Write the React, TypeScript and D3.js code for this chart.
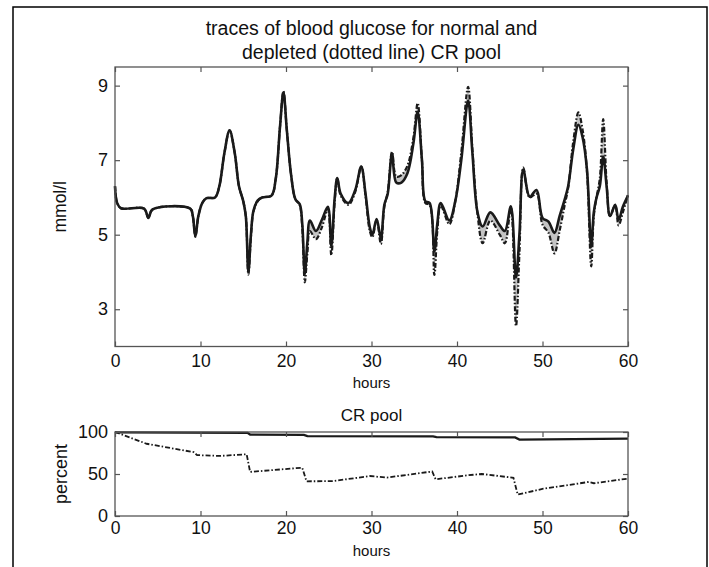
import React, { useEffect, useRef } from 'react';
import * as d3 from 'd3';

// glucose traces (mmol/l) sampled at shared hours
const hours = [0, 0.25, 0.7, 3.4, 3.9, 4.4, 8.8, 9.1, 9.4, 9.75, 10.2, 10.7, 11.7, 12.2, 12.8, 13.4, 14.0, 14.5, 15.0, 15.3,
    15.6, 15.9, 16.2, 16.7, 17.2, 18.3, 18.8, 19.3, 19.7, 20.1, 20.6, 21.1, 21.6, 21.9, 22.2, 22.5, 22.8, 23.5, 24.2, 24.9,
    25.3, 25.7, 26.0, 26.4, 27.3, 28.1, 28.8, 29.3, 29.8, 30.1, 30.6, 31.1, 31.5, 31.9, 32.4, 32.9, 33.5, 34.2, 34.9, 35.4,
    35.9, 36.3, 36.8, 37.35, 37.7, 38.1, 39.1, 39.8, 40.5, 41.3, 41.8, 42.4, 43.0, 43.9, 45.0, 45.6, 46.3, 46.9, 47.3, 47.75,
    48.5, 49.3, 50.0, 50.7, 51.4, 52.0, 52.6, 53.0, 53.6, 54.2, 54.7, 55.2, 55.7, 56.0, 56.3, 56.7, 57.1, 57.5, 57.9, 58.5,
    58.9, 59.4, 60.0];
const normal = [6.3, 5.85, 5.71, 5.7, 5.45, 5.68, 5.7, 5.5, 4.95, 5.5, 5.85, 5.98, 6.0, 6.3, 7.2, 7.8, 7.2, 6.3, 5.9, 5.5,
    4.0, 5.0, 5.65, 5.92, 6.0, 6.05, 6.5, 7.9, 8.82, 7.8, 6.6, 5.95, 5.82, 5.3, 3.95, 4.8, 5.38, 5.1, 5.4, 5.75,
    4.7, 6.0, 6.52, 6.1, 5.85, 6.2, 6.83, 6.1, 5.2, 5.0, 5.42, 4.9, 5.8, 6.1, 7.18, 6.4, 6.4, 6.65, 7.45, 8.3,
    7.0, 5.9, 5.85, 4.55, 5.3, 5.85, 5.38, 5.9, 7.0, 8.6, 7.2, 5.6, 5.22, 5.6, 5.25, 5.1, 5.76, 3.85, 5.0, 6.75,
    6.02, 6.2, 5.45, 5.35, 5.05, 5.5, 5.95, 6.3, 7.3, 7.95, 7.6, 6.75, 4.68, 5.6, 5.98, 6.3, 7.1, 6.3, 5.5, 5.8,
    5.4, 5.75, 6.05];
const depleted = [6.3, 5.85, 5.71, 5.7, 5.45, 5.68, 5.7, 5.5, 4.95, 5.5, 5.85, 5.98, 6.0, 6.3, 7.2, 7.8, 7.2, 6.3, 5.9, 5.5,
    3.93, 4.95, 5.62, 5.9, 6.0, 6.05, 6.5, 7.9, 8.85, 7.8, 6.6, 5.95, 5.8, 5.2, 3.72, 4.5, 5.1, 4.88, 5.2, 5.68,
    4.45, 5.9, 6.52, 6.05, 5.8, 6.15, 6.83, 6.05, 5.1, 4.93, 5.4, 4.75, 5.75, 6.15, 7.22, 6.56, 6.6, 6.85, 7.6, 8.53,
    7.0, 5.85, 5.8, 3.92, 5.1, 5.78, 5.28, 5.9, 7.2, 8.97, 7.3, 5.55, 4.77, 5.38, 5.0, 4.77, 5.72, 2.55, 4.5, 6.8,
    6.0, 6.1, 5.27, 5.05, 4.5, 5.1, 5.8, 6.25, 7.5, 8.28, 7.8, 6.7, 4.15, 5.5, 5.98, 6.5, 8.1, 6.4, 5.49, 5.8,
    5.25, 5.6, 6.07];

// CR pool (percent)
const poolNormalHours = [0, 15.5, 15.8, 22.1, 22.5, 37.2, 37.6, 46.8, 47.3, 60];
const poolNormal = [99.5, 99, 97, 96.5, 95, 94.8, 94, 93.5, 91, 92];
const poolDepletedHours = [0, 3.7, 9.2, 9.6, 12.3, 15.4, 15.8, 21.9, 22.4, 25.5, 29.8, 31.8, 37.1, 37.5, 41.3, 42.9,
    46.6, 47.1, 50.1, 55.4, 56.0, 60];
const poolDepleted = [100, 86, 76, 72.5, 71.5, 73.5, 52.5, 57.5, 41.3, 41.5, 47.6, 45.7, 53, 43.7, 48.5, 50,
    45.5, 25.5, 32.5, 40.5, 39, 44.5];

const hourTicks = [0, 10, 20, 30, 40, 50, 60];
const glucoseTicks = [3, 5, 7, 9];
const poolTicks = [0, 50, 100];

const FONT = "'Liberation Sans', Arial, sans-serif";

export default function App() {
    const ref = useRef<SVGSVGElement>(null);

    useEffect(() => {
        const svg = d3.select(ref.current);
        svg.selectAll('*').remove();

        const left = 115, right = 628;

        // outer frame
        svg.append('rect')
            .attr('x', 13).attr('y', 7)
            .attr('width', 694).attr('height', 600)
            .attr('fill', 'none').attr('stroke', '#000').attr('stroke-width', 1.5);

        const drawFrame = (g, x, y, top, bottom, yTicks, pad) => {
            g.append('g')
                .attr('transform', `translate(0, ${bottom})`)
                .call(d3.axisBottom(x).tickValues(hourTicks).tickSizeInner(-5).tickSizeOuter(0).tickPadding(pad))
                .call(a => a.select('.domain').remove())
                .selectAll('.tick text').style('font-size', '17.5px').style('font-family', FONT).attr('fill', '#111');
            g.append('g')
                .attr('transform', `translate(0, ${top})`)
                .call(d3.axisTop(x).tickValues(hourTicks).tickSizeInner(-5).tickSizeOuter(0).tickFormat(() => ''))
                .call(a => a.select('.domain').remove());
            g.append('g')
                .attr('transform', `translate(${left}, 0)`)
                .call(d3.axisLeft(y).tickValues(yTicks).tickSizeInner(-5).tickSizeOuter(0).tickPadding(7))
                .call(a => a.select('.domain').remove())
                .selectAll('.tick text').style('font-size', '18px').style('font-family', FONT).attr('fill', '#111');
            g.append('g')
                .attr('transform', `translate(${right}, 0)`)
                .call(d3.axisRight(y).tickValues(yTicks).tickSizeInner(-5).tickSizeOuter(0).tickFormat(() => ''))
                .call(a => a.select('.domain').remove());
            g.selectAll('.tick line').attr('stroke', '#555').attr('stroke-width', 1.2);
            g.append('rect')
                .attr('x', left).attr('y', top)
                .attr('width', right - left).attr('height', bottom - top)
                .attr('fill', 'none').attr('stroke', '#555').attr('stroke-width', 1.3);
        };

        // ---- glucose plot ----
        const top1 = 67, bottom1 = 346.5;
        const x1 = d3.scaleLinear().domain([0, 60]).range([left, right]);
        const y1 = d3.scaleLinear().domain([2, 9.5]).range([bottom1, top1]);
        const g1 = svg.append('g');

        const idx = d3.range(hours.length);
        const curve = d3.curveCatmullRom.alpha(0.5);

        g1.append('path')
            .datum(idx)
            .attr('d', d3.area<number>().x(i => x1(hours[i])).y0(i => y1(normal[i])).y1(i => y1(depleted[i])).curve(curve))
            .attr('fill', '#c4c4c4');
        g1.append('path')
            .datum(idx)
            .attr('d', d3.line<number>().x(i => x1(hours[i])).y(i => y1(depleted[i])).curve(curve))
            .attr('fill', 'none').attr('stroke', '#1a1a1a').attr('stroke-width', 2.2)
            .attr('stroke-dasharray', '5,2,1.5,2');
        g1.append('path')
            .datum(idx)
            .attr('d', d3.line<number>().x(i => x1(hours[i])).y(i => y1(normal[i])).curve(curve))
            .attr('fill', 'none').attr('stroke', '#1a1a1a').attr('stroke-width', 2.6)
            .attr('stroke-linejoin', 'round');

        drawFrame(g1, x1, y1, top1, bottom1, glucoseTicks, 8);

        svg.append('text')
            .attr('x', (left + right) / 2).attr('y', 35)
            .attr('text-anchor', 'middle')
            .style('font-family', FONT).style('font-size', '19.5px').attr('fill', '#111')
            .text('traces of blood glucose for normal and');
        svg.append('text')
            .attr('x', (left + right) / 2).attr('y', 59)
            .attr('text-anchor', 'middle')
            .style('font-family', FONT).style('font-size', '19.5px').attr('fill', '#111')
            .text('depleted (dotted line) CR pool');
        svg.append('text')
            .attr('x', (left + right) / 2).attr('y', 388)
            .attr('text-anchor', 'middle')
            .style('font-family', FONT).style('font-size', '15px').attr('fill', '#111')
            .text('hours');
        svg.append('text')
            .attr('transform', `translate(66, ${(top1 + bottom1) / 2}) rotate(-90)`)
            .attr('text-anchor', 'middle')
            .style('font-family', FONT).style('font-size', '17.5px').attr('fill', '#111')
            .text('mmol/l');

        // ---- CR pool plot ----
        const top2 = 432, bottom2 = 516;
        const x2 = d3.scaleLinear().domain([0, 60]).range([left, right]);
        const y2 = d3.scaleLinear().domain([0, 100]).range([bottom2, top2]);
        const g2 = svg.append('g');

        g2.append('path')
            .datum(d3.range(poolDepletedHours.length))
            .attr('d', d3.line<number>().x(i => x2(poolDepletedHours[i])).y(i => y2(poolDepleted[i])))
            .attr('fill', 'none').attr('stroke', '#1a1a1a').attr('stroke-width', 1.8)
            .attr('stroke-dasharray', '5,2,1.5,2');
        g2.append('path')
            .datum(d3.range(poolNormalHours.length))
            .attr('d', d3.line<number>().x(i => x2(poolNormalHours[i])).y(i => y2(poolNormal[i])))
            .attr('fill', 'none').attr('stroke', '#1a1a1a').attr('stroke-width', 2.3);

        drawFrame(g2, x2, y2, top2, bottom2, poolTicks, 6);

        svg.append('text')
            .attr('x', (left + right) / 2).attr('y', 421)
            .attr('text-anchor', 'middle')
            .style('font-family', FONT).style('font-size', '17px').attr('fill', '#111')
            .text('CR pool');
        svg.append('text')
            .attr('x', (left + right) / 2).attr('y', 556)
            .attr('text-anchor', 'middle')
            .style('font-family', FONT).style('font-size', '15px').attr('fill', '#111')
            .text('hours');
        svg.append('text')
            .attr('transform', `translate(67, ${(top2 + bottom2) / 2}) rotate(-90)`)
            .attr('text-anchor', 'middle')
            .style('font-family', FONT).style('font-size', '18px').attr('fill', '#111')
            .text('percent');
    }, []);

    return (
        <svg ref={ref} width={709} height={567}
            style={{ position: 'absolute', left: 0, top: 0, background: '#fff' }} />
    );
}
